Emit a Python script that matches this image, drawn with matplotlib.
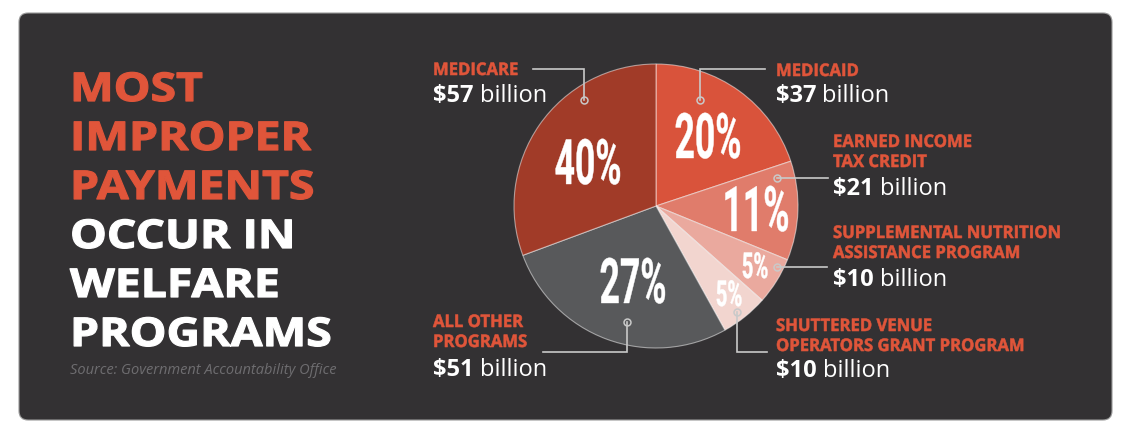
import matplotlib
matplotlib.use("Agg")
import matplotlib.pyplot as plt
from matplotlib.patches import FancyBboxPatch
from matplotlib.patheffects import AbstractPathEffect
from matplotlib.transforms import Affine2D

# ---------------- data ----------------
programs = ["MEDICAID", "EARNED INCOME\nTAX CREDIT", "SUPPLEMENTAL NUTRITION\nASSISTANCE PROGRAM",
            "SHUTTERED VENUE\nOPERATORS GRANT PROGRAM", "ALL OTHER\nPROGRAMS", "MEDICARE"]
billions = [37, 21, 10, 10, 51, 57]
pct_labels = ["20%", "11%", "5%", "5%", "27%", "40%"]
slice_colors = ["#D9533B", "#E07C6B", "#EAA99E", "#F2D5CF", "#58595B", "#A13B28"]
title_red = ["MOST", "IMPROPER", "PAYMENTS"]
title_white = ["OCCUR IN", "WELFARE", "PROGRAMS"]
source = "Source: Government Accountability Office"

W, H = 1132, 436
BG = "#333133"
ORANGE = "#E0553A"
LINE = "#C9C9C9"


class Scale(AbstractPathEffect):
    """Draw text glyphs scaled about an anchor point (data coords), optional thickening."""

    def __init__(self, axes, anchor, sx, sy=1.0, stroke=0.0):
        super().__init__()
        self.axes = axes
        self.anchor = anchor
        self.sx = sx
        self.sy = sy
        self.stroke = stroke

    def draw_path(self, renderer, gc, tpath, affine, rgbFace=None):
        ax_, ay_ = self.axes.transData.transform(self.anchor)
        aff = affine + Affine2D().translate(-ax_, -ay_).scale(self.sx, self.sy).translate(ax_, ay_)
        gc0 = renderer.new_gc()
        gc0.copy_properties(gc)
        if self.stroke > 0 and rgbFace is not None:
            gc0.set_foreground(rgbFace[:3] if len(rgbFace) >= 3 else rgbFace)
            gc0.set_linewidth(self.stroke)
        else:
            gc0.set_linewidth(0)
        renderer.draw_path(gc0, tpath, aff, rgbFace)
        gc0.restore()


fig = plt.figure(figsize=(W / 100, H / 100), dpi=100)
fig.patch.set_facecolor("white")
ax = fig.add_axes([0, 0, 1, 1])


def Y(y):
    return H - y


# card
card = FancyBboxPatch((19, Y(420)), 1093, 407, boxstyle="round,pad=0,rounding_size=9",
                      facecolor=BG, edgecolor="#9a9a9a", linewidth=0.8, zorder=0)
ax.add_patch(card)

# pie
cx, cy, r = 656, 206, 142
wedges, _ = ax.pie(billions, colors=slice_colors, startangle=90, counterclock=False,
                   center=(cx, Y(cy)), radius=r,
                   wedgeprops=dict(edgecolor=(1, 1, 1, 0.5), linewidth=0.8))
for w in wedges:
    w.set_zorder(2)

ax.set_xlim(0, W)
ax.set_ylim(0, H)
ax.set_aspect("auto")
ax.axis("off")

# percentage labels (center x, baseline y, size) – tall condensed look
pfam = ["Roboto", "Open Sans", "DejaVu Sans"]
pct_pos = [(708, 158, 35), (756, 231, 35), (755, 278, 20), (729, 306, 20),
           (633, 303, 35), (588, 184, 35)]
for lab, (x, yb, s) in zip(pct_labels, pct_pos):
    ax.text(x, Y(yb), lab, ha="center", va="baseline", color="white", fontsize=s,
            family=pfam, fontweight="bold", zorder=5,
            path_effects=[Scale(ax, (x, Y(yb)), 0.73, 1.29, stroke=0.3)])

# title
tf = ["Open Sans", "DejaVu Sans"]
baselines = [101, 150, 199, 248, 297, 346]
for i, line in enumerate(title_red + title_white):
    ax.text(70, Y(baselines[i]), line, ha="left", va="baseline",
            color=ORANGE if i < 3 else "white", fontsize=28.5, family=tf, fontweight="bold",
            path_effects=[Scale(ax, (70, Y(baselines[i])), 1.17, 1.0, stroke=0.9)])
ax.text(70, Y(374), source, ha="left", va="baseline", color="#6e6d70", fontsize=10.5,
        family=tf, style="italic")

fig.canvas.draw()
renderer = fig.canvas.get_renderer()


def money(x, yb, val):
    t = ax.text(x, Y(yb), f"${val}", ha="left", va="baseline", color="white",
                fontsize=17, family=tf, fontweight="bold")
    bb = t.get_window_extent(renderer)
    ax.text(bb.x1 + 6, Y(yb), "billion", ha="left", va="baseline", color="white",
            fontsize=17, family=tf)


def label(x, y_first_base, text, val, money_base):
    lines = text.split("\n")
    for k, ln in enumerate(lines):
        yb = Y(y_first_base + k * 20)
        ax.text(x, yb, ln, ha="left", va="baseline", color=ORANGE,
                fontsize=12.5, family=tf, fontweight="bold",
                path_effects=[Scale(ax, (x, yb), 0.96, 1.0, stroke=0.4)])
    money(x, money_base, val)


# labels: x, first baseline, money baseline
lab_pos = [(776, 76, 102), (833, 147, 195), (833, 238, 286), (776, 331, 377), (433, 327, 376), (433, 75, 102)]
for name, val, (x, b1, mb) in zip(programs, billions, lab_pos):
    label(x, b1, name, val, mb)

# connector lines (pixel paths) and dots
connectors = [
    [(700, 100), (700, 69), (765, 69)],
    [(777, 178), (828, 178)],
    [(777, 267), (827, 267)],
    [(737, 312), (737, 352), (767, 352)],
    [(627, 322), (627, 352), (543, 352)],
    [(584, 100), (584, 69), (533, 69)],
]
for path in connectors:
    xs = [p[0] for p in path]
    ys = [Y(p[1]) for p in path]
    ax.plot(xs, ys, color=LINE, lw=1.2, zorder=6, solid_joinstyle="miter")
    ax.plot(xs[0], ys[0], "o", ms=5, mfc="none", mec=LINE, mew=1.1, zorder=7)

fig.savefig("out.png", dpi=100, facecolor="white")
